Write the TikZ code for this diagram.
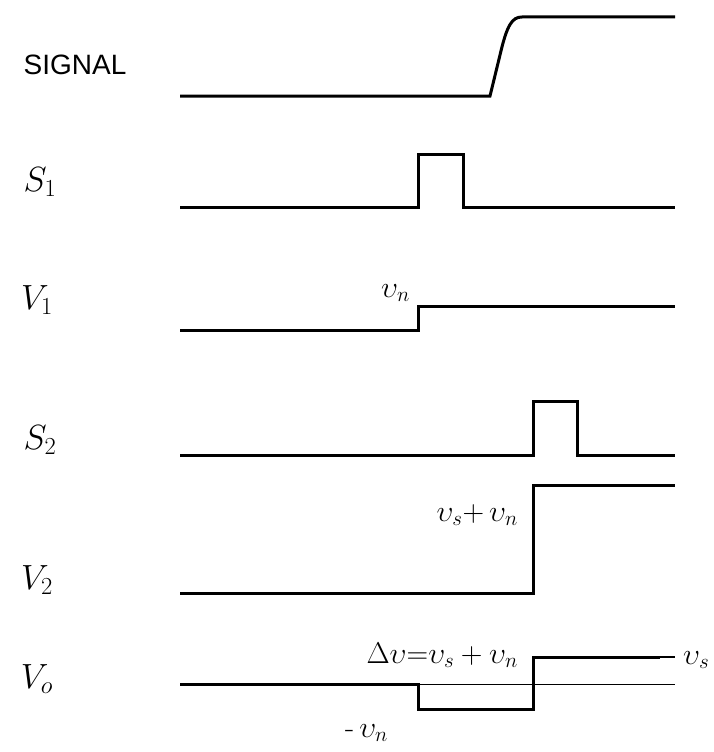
\RequirePackage{fix-cm}
\documentclass[tikz,border=0pt]{standalone}
\usepackage{fontspec}
\newfontfamily\labelsans{Liberation Sans}
\begin{document}
\begin{tikzpicture}[x=1pt,y=-1pt,
  wave/.style={line width=3pt,line join=miter},
  thinline/.style={line width=1pt},
  rowlbl/.style={inner sep=0pt,font=\fontsize{35}{40}\selectfont},
  lbl/.style={inner sep=0pt,font=\fontsize{30}{34}\selectfont},
  sig/.style={inner sep=0pt,font=\labelsans\fontsize{28}{32}\selectfont}]
\useasboundingbox (0,0) rectangle (713,752);
% row labels
\node[sig] (Lsig) at (75,65) {SIGNAL};
\node[rowlbl] (Ls1) at (40,182) {$S_1$};
\node[rowlbl] (Lv1) at (37,300) {$V_1$};
\node[rowlbl] (Ls2) at (40,440) {$S_2$};
\node[rowlbl] (Lv2) at (37,580) {$V_2$};
\node[rowlbl] (Lvo) at (37,679) {$V_o$};
% SIGNAL
\draw[wave] (180,96) -- (490,96) -- (500,55) .. controls (507,25) and (512,17) .. (522,17) -- (675,17);
% S1
\draw[wave] (180,207) -- (418,207) -- (418,154) -- (463,154) -- (463,207) -- (675,207);
% V1
\draw[wave] (180,330) -- (418,330) -- (418,306) -- (675,306);
\node[lbl,anchor=east] (vn1) at (410,293) {$\upsilon_n$};
% S2
\draw[wave] (180,455) -- (533,455) -- (533,401) -- (577,401) -- (577,455) -- (675,455);
% V2
\draw[wave] (180,593) -- (533,593) -- (533,485) -- (675,485);
\node[lbl,anchor=east] (vsn) at (518,515) {$\upsilon_s{+}\,\upsilon_n$};
% Vo
\draw[thinline] (418,684) -- (675,684);
\draw[wave] (180,684) -- (418,684) -- (418,709) -- (533,709) -- (533,657) -- (660,657);
\draw[line width=1.5pt] (660,657) -- (675,657);
\node[lbl,anchor=east] (dv) at (518,655) {$\Delta\upsilon{=}\upsilon_s+\upsilon_n$};
\node[lbl,anchor=west] (mvn) at (345,733) {-\,$\upsilon_n$};
\node[lbl,anchor=west] (vs) at (683,660) {$\upsilon_s$};
\end{tikzpicture}
\end{document}
